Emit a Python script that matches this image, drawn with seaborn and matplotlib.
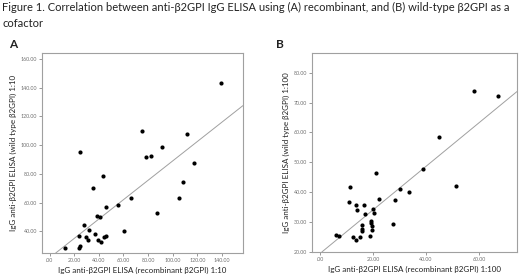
import numpy as np
import matplotlib
matplotlib.use("Agg")
import matplotlib.pyplot as plt
import seaborn as sns

sns.set_style("white")
plt.rcParams['font.family'] = ['Lato', 'DejaVu Sans']

# panel A: recombinant vs wild type, 1:10
a_x = [12.4, 23.8, 24.9, 24.3, 25.1, 28.1, 29.5, 31.6, 32.4, 35.7, 37.0, 38.9,
       39.5, 41.4, 41.9, 43.5, 44.3, 45.9, 46.2, 55.7, 60.3, 66.5, 74.9, 78.4,
       82.2, 87.6, 91.6, 104.9, 108.6, 111.6, 117.6, 138.9]
a_y = [28.6, 28.6, 29.8, 37.0, 95.1, 44.7, 36.3, 33.7, 40.9, 70.2, 37.9, 50.7,
       33.7, 50.2, 32.8, 78.6, 36.3, 36.5, 57.0, 58.4, 40.2, 63.5, 110.0, 91.4,
       92.3, 52.8, 98.6, 63.5, 74.4, 107.4, 87.6, 143.3]
a_fit = (21.6, 0.674)  # intercept, slope

# panel B: 1:100
b_x = [6.2, 7.0, 10.8, 11.2, 12.6, 13.7, 13.8, 13.7, 15.1, 15.7, 15.7, 15.8,
       16.5, 17.1, 18.9, 19.2, 19.4, 19.7, 19.7, 20.1, 20.4, 21.1, 22.3, 27.4,
       28.1, 30.1, 33.6, 38.9, 44.7, 51.4, 58.2, 66.9]
b_y = [25.6, 25.4, 36.8, 41.6, 24.9, 35.6, 34.0, 24.1, 25.1, 28.9, 27.8, 27.0,
       35.6, 32.7, 25.4, 30.3, 29.6, 28.8, 27.5, 34.5, 33.0, 46.4, 37.7, 29.4,
       37.4, 41.0, 40.1, 47.7, 58.5, 42.0, 73.9, 72.1]
b_fit = (19.45, 0.731)

a_xticks = [0, 20, 40, 60, 80, 100, 120, 140]
a_yticks = [40, 60, 80, 100, 120, 140, 160]
b_xticks = [0, 20, 40, 60]
b_yticks = [20, 30, 40, 50, 60, 70, 80]

title = ("Figure 1. Correlation between anti-\u03b22GPI IgG ELISA using (A) recombinant, "
         "and (B) wild-type \u03b22GPI as a\ncofactor")


def fmt(v):
    s = "%.2f" % v
    return s[1:] if s.startswith("0") else s


def panel(ax, x, y, fit, xticks, yticks, xlim, ylim, xlabel, ylabel):
    sns.scatterplot(x=x, y=y, ax=ax, color="black", s=9, linewidth=0, zorder=3)
    ax.axline((0, fit[0]), slope=fit[1], color="#a0a0a0", lw=0.7, zorder=2)
    ax.set_xlim(*xlim)
    ax.set_ylim(*ylim)
    ax.set_xticks(xticks)
    ax.set_xticklabels([fmt(v) for v in xticks])
    ax.set_yticks(yticks)
    ax.set_yticklabels([fmt(v) for v in yticks])
    ax.tick_params(axis="both", labelsize=3.8, colors="#707070", length=2,
                   width=0.5, pad=1.5, direction="out", bottom=True, left=True)
    for sp in ax.spines.values():
        sp.set_color("#a0a0a0")
        sp.set_linewidth(0.8)
    ax.set_xlabel(xlabel, fontsize=5.8, color="#222222", labelpad=3)
    ax.set_ylabel(ylabel, fontsize=5.8, color="#222222", labelpad=3)


fig = plt.figure(figsize=(5.2, 2.75), dpi=100)
fig.text(0.004, 0.993, title, ha="left", va="top", fontsize=8.05,
         color="#222222", linespacing=1.55)

ax1 = fig.add_axes([0.081, 0.08, 0.386, 0.727])
panel(ax1, a_x, a_y, a_fit, a_xticks, a_yticks, (-6, 157), (25, 164),
      "IgG anti-\u03b22GPI ELISA (recombinant \u03b22GPI) 1:10",
      "IgG anti-\u03b22GPI ELISA (wild type \u03b22GPI) 1:10")
fig.text(0.018, 0.825, "A", fontsize=8.5, fontweight="bold", color="#222222")

ax2 = fig.add_axes([0.6, 0.084, 0.394, 0.724])
panel(ax2, b_x, b_y, b_fit, b_xticks, b_yticks, (-3, 74.2), (20, 86.7),
      "IgG anti-\u03b22GPI ELISA (recombinant \u03b22GPI) 1:100",
      "IgG anti-\u03b22GPI ELISA (wild type \u03b22GPI) 1:100")
fig.text(0.53, 0.825, "B", fontsize=8.5, fontweight="bold", color="#222222")

fig.savefig("out.png", dpi=100)
